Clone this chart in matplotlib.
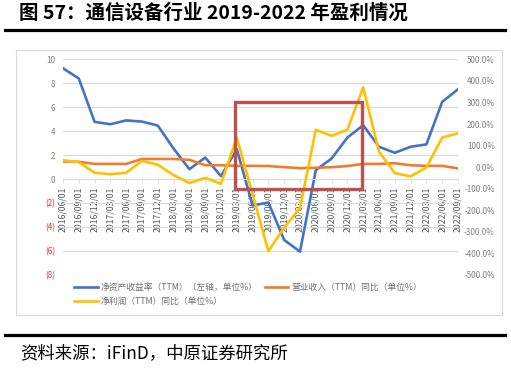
import numpy as np
import matplotlib
matplotlib.use("Agg")
import matplotlib.pyplot as plt
from matplotlib.patches import Rectangle
from matplotlib.lines import Line2D

plt.rcParams['font.family'] = ['Noto Sans CJK SC', 'DejaVu Sans']

# data
dates = ['2016/06/01', '2016/09/01', '2016/12/01', '2017/03/01', '2017/06/01',
         '2017/09/01', '2017/12/01', '2018/03/01', '2018/06/01', '2018/09/01',
         '2018/12/01', '2019/03/01', '2019/06/01', '2019/09/01', '2019/12/01',
         '2020/03/01', '2020/06/01', '2020/09/01', '2020/12/01', '2021/03/01',
         '2021/06/01', '2021/09/01', '2021/12/01', '2022/03/01', '2022/06/01',
         '2022/09/01']
roe = [9.25, 8.4, 4.78, 4.58, 4.9, 4.8, 4.47, 2.55, 0.83, 1.8, 0.25, 2.5, -2.2,
       -1.95, -5.08, -6.05, 0.75, 1.72, 3.47, 4.5, 2.7, 2.2, 2.7, 2.9, 6.45, 7.5]
rev_yoy = [26, 25, 15, 15, 15, 38, 38, 38, 34, 9, 9, 6, 6, 5, 0, -5, -3, 0, 5,
           15, 15, 18, 9, 6, 6, -6]
profit_yoy = [32, 23, -26, -33, -26, 29, 11, -37, -74, -50, -77, 137, -125,
              -390, -280, -190, 173, 145, 173, 370, 72, -28, -43, -2, 137, 157]

left_ticks = [10, 8, 6, 4, 2, 0, -2, -4, -6, -8]
right_ticks = [500, 400, 300, 200, 100, 0, -100, -200, -300, -400, -500]

title = "图 57：通信设备行业 2019-2022 年盈利情况"
source = "资料来源：iFinD，中原证券研究所"
labels = ["净资产收益率（TTM）（左轴，单位%）", "净利润（TTM）同比（单位%）",
          "营业收入（TTM）同比（单位%）"]

blue, orange, yellow = "#4472C4", "#ED7D31", "#FFC000"
grid_c = "#D9D9D9"
txt_c = "#7F7F7F"

W, H = 511, 368
fig = plt.figure(figsize=(W / 100, H / 100), dpi=100)

def fx(px):
    return px / W

def fy(py):
    return 1 - py / H

# title, rules and source
fig.text(fx(19), fy(13), title, fontsize=14, fontweight='bold', va='center', ha='left')
fig.add_artist(Line2D([fx(5), fx(505)], [fy(30), fy(30)], color='black', lw=2.3))
fig.add_artist(Line2D([fx(5), fx(505)], [fy(335), fy(335)], color='black', lw=2.3))
fig.text(fx(20), fy(353), source, fontsize=12.5, va='center', ha='left')

# light frame round the chart
fig.add_artist(Rectangle((fx(16), fy(315)), fx(502) - fx(16), fy(50) - fy(315),
                         transform=fig.transFigure, fill=False, ec=grid_c, lw=0.8))

ax = fig.add_axes([fx(63), fy(275), fx(458) - fx(63), fy(59.3) - fy(275)])
ax2 = ax.twinx()

# spine position first: it resets the ticks
for a in (ax, ax2):
    for s in ('top', 'left', 'right'):
        a.spines[s].set_visible(False)
ax2.spines['bottom'].set_visible(False)
ax.spines['bottom'].set_position(('data', 0))
ax.spines['bottom'].set_color(grid_c)
ax.spines['bottom'].set_linewidth(0.8)

x = np.arange(len(dates))
l1, = ax.plot(x, roe, color=blue, lw=1.9, solid_joinstyle='round')
l3, = ax2.plot(x, rev_yoy, color=orange, lw=1.9, solid_joinstyle='round')
l2, = ax2.plot(x, profit_yoy, color=yellow, lw=1.9, solid_joinstyle='round')

ax.set_xlim(0, len(dates) - 1)
ax.set_ylim(-8, 10)
ax2.set_ylim(-500, 500)

ax.set_yticks(left_ticks)
ax.set_yticklabels([str(v) if v >= 0 else "(%d)" % -v for v in left_ticks])
for t, v in zip(ax.get_yticklabels(), left_ticks):
    t.set_color(txt_c if v >= 0 else "#E0303A")
ax.tick_params(axis='y', length=0, pad=5.5, labelsize=5.8)
ax.yaxis.grid(True, color=grid_c, lw=0.8)
ax.set_axisbelow(True)

ax2.set_yticks(right_ticks)
ax2.set_yticklabels(["%.1f%%" % v for v in right_ticks])
ax2.tick_params(axis='y', length=0, pad=26.5, labelsize=5.8, labelcolor=txt_c)
for t in ax2.get_yticklabels():
    t.set_horizontalalignment('right')

ax.set_xticks(x)
ax.set_xticklabels(dates)
ax.tick_params(axis='x', length=3, width=0.6, color=grid_c, pad=2.5,
               labelsize=6.3, labelcolor="#595959", labelrotation=90)
for t in ax.get_xticklabels():
    t.set_verticalalignment('top')
    t.set_horizontalalignment('center')

# red highlight box
ax2.add_patch(Rectangle((10.89, -103), 18.92 - 10.89, 406,
                        fill=False, ec="#C0504D", lw=2.4, clip_on=False, zorder=10))

leg = fig.legend([l1, l2, l3], labels, ncol=2, loc='upper left',
                 bbox_to_anchor=(fx(74), fy(283)), frameon=False, fontsize=6.3,
                 handlelength=2.7, handletextpad=0.35, columnspacing=0.8,
                 labelspacing=0.6, borderpad=0, borderaxespad=0)
for t in leg.get_texts():
    t.set_color("#6F6F6F")

fig.savefig("out.png", dpi=100)
